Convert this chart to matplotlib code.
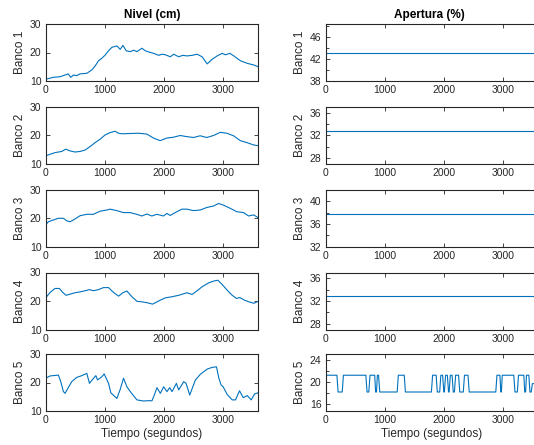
import matplotlib.pyplot as plt
import numpy as np
from matplotlib.ticker import MultipleLocator

plt.rcParams['font.family'] = ['Liberation Sans', 'DejaVu Sans']

# Nivel (cm) - tiempo en segundos
t1 = [0, 130, 243, 328, 380, 424, 470, 526, 583, 696, 781, 838, 894, 951, 1007,
      1064, 1120, 1170, 1205, 1262, 1307, 1364, 1432, 1490, 1545, 1630, 1686,
      1743, 1828, 1913, 1970, 2026, 2111, 2167, 2252, 2320, 2394, 2480, 2564,
      2649, 2734, 2818, 2903, 2988, 3045, 3118, 3186, 3250, 3299, 3412, 3526, 3600]
n1 = [10.6, 11.3, 11.5, 12.1, 12.5, 11.3, 12.1, 11.9, 12.5, 12.7, 13.9, 15.3,
      17.1, 18.0, 19.1, 20.6, 21.8, 22.1, 22.3, 21.1, 22.5, 20.6, 20.3, 20.8,
      20.3, 21.5, 20.6, 20.2, 19.7, 19.0, 19.4, 19.2, 18.5, 19.4, 18.5, 19.0,
      18.8, 19.0, 19.4, 18.5, 16.0, 17.6, 18.8, 19.7, 19.2, 19.7, 18.8, 17.8,
      17.1, 16.2, 15.6, 15.0]

t2 = [0, 73, 158, 271, 339, 412, 497, 582, 667, 751, 836, 921, 1006, 1090, 1175,
      1232, 1288, 1429, 1571, 1712, 1825, 1938, 2051, 2164, 2277, 2390, 2503,
      2616, 2729, 2842, 2955, 3068, 3181, 3294, 3407, 3520, 3600]
n2 = [12.9, 13.4, 14.0, 14.4, 15.2, 14.6, 14.2, 14.4, 14.9, 16.1, 17.5, 18.7,
      20.2, 21.0, 21.5, 20.8, 20.6, 20.7, 20.8, 20.5, 19.1, 18.2, 19.1, 19.4,
      20.0, 19.6, 19.3, 19.9, 19.3, 20.0, 21.1, 20.8, 19.9, 18.2, 17.5, 16.7, 16.4]

t3 = [0, 45, 130, 215, 300, 356, 412, 469, 582, 695, 808, 921, 1034, 1090, 1203,
      1316, 1429, 1542, 1627, 1712, 1797, 1881, 1994, 2051, 2107, 2220, 2305,
      2390, 2503, 2616, 2729, 2842, 2927, 3011, 3124, 3237, 3350, 3435, 3520, 3600]
n3 = [17.6, 18.7, 19.3, 19.9, 19.9, 19.0, 18.7, 19.3, 20.8, 21.3, 21.3, 22.4,
      22.8, 23.1, 22.6, 21.9, 21.9, 21.3, 20.7, 21.4, 20.7, 21.3, 20.7, 21.6,
      20.9, 22.2, 23.1, 23.1, 22.6, 22.8, 23.7, 24.2, 25.1, 24.5, 23.4, 22.2,
      21.9, 20.7, 21.1, 20.1]

t4 = [0, 74, 158, 232, 289, 345, 413, 498, 583, 668, 741, 809, 894, 979, 1064,
      1149, 1234, 1307, 1375, 1460, 1545, 1630, 1715, 1811, 1856, 1941, 2026,
      2139, 2252, 2394, 2479, 2564, 2649, 2762, 2847, 2915, 2988, 3073, 3158,
      3231, 3288, 3367, 3441, 3526, 3600]
n4 = [21.1, 23.0, 24.4, 24.4, 23.0, 22.0, 22.4, 22.9, 23.2, 23.6, 24.0, 23.6,
      24.0, 24.7, 24.7, 23.0, 21.7, 22.9, 23.5, 21.5, 19.9, 19.7, 19.4, 18.9,
      19.4, 20.3, 21.1, 21.5, 22.0, 22.9, 22.3, 23.6, 25.0, 26.4, 27.0, 27.3,
      25.8, 23.8, 22.0, 20.9, 21.2, 20.3, 19.7, 19.2, 19.9]

t5 = [0, 74, 215, 255, 300, 328, 385, 441, 526, 611, 696, 741, 798, 849, 877,
      951, 990, 1064, 1103, 1205, 1262, 1318, 1375, 1432, 1545, 1658, 1715,
      1800, 1839, 1884, 1941, 1998, 2054, 2100, 2139, 2213, 2252, 2337, 2377,
      2439, 2535, 2620, 2734, 2818, 2892, 2932, 2971, 3005, 3073, 3158, 3214,
      3282, 3345, 3413, 3480, 3537, 3600]
n5 = [21.5, 22.3, 22.6, 20.3, 16.8, 16.2, 18.3, 20.3, 21.8, 22.4, 23.2, 19.7,
      21.2, 22.4, 20.9, 22.0, 23.0, 19.7, 16.4, 14.4, 17.6, 21.5, 18.5, 16.8,
      13.9, 13.5, 13.6, 13.6, 15.6, 18.2, 16.2, 18.5, 16.8, 18.2, 16.8, 19.7,
      17.4, 20.3, 19.7, 15.6, 20.9, 22.9, 24.7, 25.3, 25.5, 21.5, 19.1, 18.5,
      15.8, 13.9, 13.9, 17.1, 14.7, 15.4, 13.9, 16.0, 16.4]

# Apertura (%)
ap_const = [43.2, 32.8, 37.7, 32.8]
ap_ylim = [(38, 48.4), (27, 37), (32, 42.1), (27, 37), (14.8, 25)]
ap_major = [[38, 42, 46], [28, 32, 36], [32, 36, 40], [28, 32, 36], [16, 20, 24]]

# Banco 5 apertura: conmutacion entre dos niveles
t_ap5 = [0, 190, 210, 280, 300, 680, 700, 730, 750, 830, 845, 860, 875, 895,
         915, 1210, 1230, 1330, 1350, 1790, 1810, 1870, 1890, 1930, 1950, 1980,
         2000, 2010, 2030, 2060, 2080, 2090, 2110, 2140, 2160, 2180, 2200, 2250,
         2270, 2330, 2350, 2410, 2430, 2880, 2900, 2950, 2965, 2975, 2990, 3185,
         3205, 3245, 3265, 3355, 3370, 3385, 3400, 3440, 3458, 3480, 3500, 3570,
         3580, 3600]
ap5 = [21.2, 21.2, 18.2, 18.2, 21.2, 21.2, 18.2, 18.2, 21.2, 21.2, 18.2, 18.2,
       21.2, 21.2, 18.2, 18.2, 21.2, 21.2, 18.2, 18.2, 21.2, 21.2, 18.2, 18.2,
       21.2, 21.2, 18.2, 18.2, 21.2, 21.2, 18.2, 18.2, 21.2, 21.2, 18.2, 18.2,
       21.2, 21.2, 18.2, 18.2, 21.2, 21.2, 18.2, 18.2, 21.2, 21.2, 18.2, 18.2,
       21.2, 21.2, 18.2, 18.2, 21.2, 21.2, 18.2, 18.2, 21.2, 21.2, 18.2, 18.2,
       19.7, 19.7, 19.7, 19.7]

nivel_t = [t1, t2, t3, t4, t5]
nivel = [n1, n2, n3, n4, n5]
xticks = [0, 1000, 2000, 3000]
line_c = '#0072BD'
ax_c = '#262626'

fig = plt.figure(figsize=(5.34, 4.45), dpi=100)
W, H = 534, 445
tops = [24, 107, 189.5, 272.5, 354]
ah = 57


def style(ax):
    for s in ax.spines.values():
        s.set_color(ax_c)
        s.set_linewidth(0.8)
    ax.tick_params(direction='in', top=True, right=True, length=3, width=0.6,
                   colors=ax_c, labelsize=7.5, pad=3)
    ax.tick_params(which='minor', direction='in', right=True, length=2,
                   width=0.6, colors=ax_c)
    ax.set_xlim(0, 3600)
    ax.set_xticks(xticks)


for i in range(5):
    b = 1 - (tops[i] + ah) / H
    axl = fig.add_axes([45.7 / W, b, 212.6 / W, ah / H])
    axl.plot(nivel_t[i], nivel[i], color=line_c, lw=0.8)
    axl.set_ylim(10, 30)
    axl.set_yticks([10, 20, 30])
    style(axl)
    axl.set_ylabel('Banco %d' % (i + 1), fontsize=8.5, color=ax_c, labelpad=3)

    axr = fig.add_axes([325.7 / W, b, 212.6 / W, ah / H])
    if i < 4:
        axr.plot([0, 3600], [ap_const[i], ap_const[i]], color=line_c, lw=0.8)
    else:
        axr.plot(t_ap5, ap5, color=line_c, lw=0.8)
    axr.set_ylim(*ap_ylim[i])
    axr.set_yticks(ap_major[i])
    axr.yaxis.set_minor_locator(MultipleLocator(2))
    style(axr)
    axr.set_ylabel('Banco %d' % (i + 1), fontsize=8.5, color=ax_c, labelpad=3)

    if i == 0:
        axl.set_title('Nivel (cm)', fontsize=8.5, fontweight='bold', color='black', pad=4)
        axr.set_title('Apertura (%)', fontsize=8.5, fontweight='bold', color='black',
                      pad=4, x=(534 - 325.7) / 2 / 212.6 + 0.0)
    if i == 4:
        axl.set_xlabel('Tiempo (segundos)', fontsize=8.5, color=ax_c, labelpad=2)
        axr.set_xlabel('Tiempo (segundos)', fontsize=8.5, color=ax_c, labelpad=2,
                       x=0.5)

fig.savefig('out.png', dpi=100)
